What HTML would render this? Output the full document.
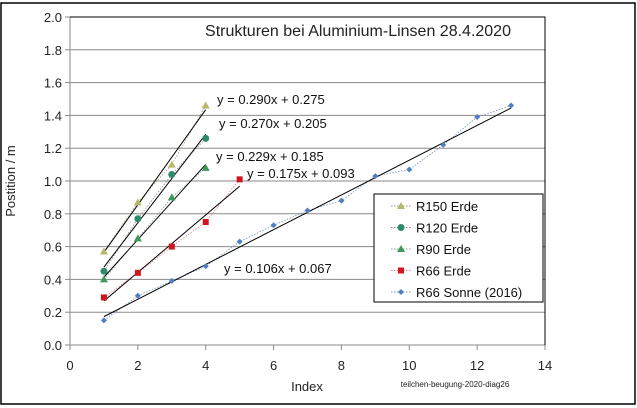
<!DOCTYPE html>
<html><head><meta charset="utf-8"><style>
body{margin:0;background:#fff}
svg{display:block;font-family:"Liberation Sans",sans-serif}
</style></head><body>
<svg width="637" height="408">
<rect x="1" y="3" width="634" height="401" fill="#fff" stroke="#000" stroke-width="1.5"/>
<g id="grid"></g>
<g id="axes"></g>
<g id="marks"></g>
<text x="358" y="36" font-size="16" text-anchor="middle" fill="#222">Strukturen bei Aluminium-Linsen 28.4.2020</text>
<text x="15" y="181" font-size="13" text-anchor="middle" transform="rotate(-90 15 181)" fill="#222">Postition / m</text>
<text x="307" y="391" font-size="13" text-anchor="middle" fill="#222">Index</text>
<text x="455" y="387" font-size="8" text-anchor="middle" fill="#222">teilchen-beugung-2020-diag26</text>
<g id="legend"></g>
</svg>
<script>
const xTicks=[0,2,4,6,8,10,12,14];
const yTicks=[0,0.2,0.4,0.6,0.8,1.0,1.2,1.4,1.6,1.8,2.0];
const seriesNames=["R150 Erde","R120 Erde","R90 Erde","R66 Erde","R66 Sonne (2016)"];
const r150=[[1,0.57],[2,0.87],[3,1.10],[4,1.46]];
const r120=[[1,0.45],[2,0.77],[3,1.04],[4,1.26]];
const r90=[[1,0.40],[2,0.65],[3,0.90],[4,1.08]];
const r66=[[1,0.29],[2,0.44],[3,0.60],[4,0.75],[5,1.01]];
const sonne=[[1,0.15],[2,0.30],[3,0.39],[4,0.48],[5,0.63],[6,0.73],[7,0.82],[8,0.88],[9,1.03],[10,1.07],[11,1.22],[12,1.39],[13,1.46]];
const slopes=[0.290,0.270,0.229,0.175,0.106];
const intercepts=[0.275,0.205,0.185,0.093,0.067];
const eqLabels=["y = 0.290x + 0.275","y = 0.270x + 0.205","y = 0.229x + 0.185","y = 0.175x + 0.093","y = 0.106x + 0.067"];
const eqPos=[[217,104],[219,128],[216,161],[247,178],[224,273]];
const colors=["#b5b86a","#2e8b6a","#3f9a5a","#d0151f","#4f7fc0"];
const lineColors=["#9aa070","#888","#7aa08a","#f08080","#7090c8"];
const shapes=["tri","circ","tri","sq","dia"];
const all=[r150,r120,r90,r66,sonne];
const X0=70,X1=545,Y0=345,Y1=17;
const sx=v=>X0+(v-0)/(14-0)*(X1-X0);
const sy=v=>Y0-(v-0)/(2-0)*(Y0-Y1);
const NS="http://www.w3.org/2000/svg";
function mk(t,a,p){const e=document.createElementNS(NS,t);for(const k in a)e.setAttribute(k,a[k]);p.appendChild(e);return e;}
const grid=document.getElementById('grid'),axes=document.getElementById('axes'),marks=document.getElementById('marks');
yTicks.forEach(v=>{
 const l=mk('line',{x1:X0,x2:X1,y1:sy(v),y2:sy(v),stroke:'#8a8a8a','stroke-width':1},grid);
 
 
 const t=mk('line',{x1:X0-5,x2:X0,y1:sy(v),y2:sy(v),stroke:'#8a8a8a'},axes);
 
 
 const tx=mk('text',{x:X0-8,y:sy(v)+5,'font-size':13,'text-anchor':'end',fill:'#222'},axes);
 tx.textContent=v.toFixed(1);
 
 
});
xTicks.forEach(v=>{
 const t=mk('line',{x1:sx(v),x2:sx(v),y1:Y0,y2:Y0+5,stroke:'#8a8a8a'},axes);
 
 
 const tx=mk('text',{x:sx(v),y:Y0+25,'font-size':13,'text-anchor':'middle',fill:'#222'},axes);
 tx.textContent=v;
 
 
});
const ya=mk('line',{x1:X0,x2:X0,y1:Y1,y2:Y0,stroke:'#8a8a8a'},axes);


const xa=mk('line',{x1:X0,x2:X1,y1:Y0,y2:Y0,stroke:'#8a8a8a'},axes);


const pb=mk('path',{d:`M${X0} ${Y1}H${X1}V${Y0}`,fill:'none',stroke:'#000'},axes);


function marker(shape,x,y,c,p){
 let e;
 if(shape==='tri')e=mk('polygon',{points:`${x},${y-4} ${x+4},${y+3} ${x-4},${y+3}`,fill:c},p);
 else if(shape==='circ')e=mk('circle',{cx:x,cy:y,r:3.5,fill:c},p);
 else if(shape==='sq')e=mk('rect',{x:x-3,y:y-3,width:6,height:6,fill:c},p);
 else e=mk('polygon',{points:`${x},${y-3} ${x+3},${y} ${x},${y+3} ${x-3},${y}`,fill:c},p);
 return e;
}
all.forEach((d,i)=>{
 const pl=mk('polyline',{points:d.map(p=>sx(p[0])+','+sy(p[1])).join(' '),fill:'none',stroke:lineColors[i],'stroke-width':0.8,'stroke-dasharray':'1.5,1.5'},marks);
 
 
 const xa0=d[0][0],xa1=d[d.length-1][0];
 const tl=mk('line',{x1:sx(xa0),y1:sy(slopes[i]*xa0+intercepts[i]),x2:sx(xa1),y2:sy(slopes[i]*xa1+intercepts[i]),stroke:'#000','stroke-width':1},marks);
 
 
 d.forEach(p=>{
  const m=marker(shapes[i],sx(p[0]),sy(p[1]),colors[i],marks);
  
  
 });
 const t=mk('text',{x:eqPos[i][0],y:eqPos[i][1],'font-size':13,fill:'#111'},marks);
 t.textContent=eqLabels[i];
 
 
});
const lg=document.getElementById('legend');
const lb=mk('rect',{x:374,y:194,width:169,height:108,fill:'#fff',stroke:'#000'},lg);


seriesNames.forEach((n,i)=>{
 const y=206+i*21.5;
 const g=mk('g',{},lg);
 
 
 mk('line',{x1:391,x2:411,y1:y,y2:y,stroke:lineColors[i],'stroke-dasharray':'1.5,1.5'},g);
 marker(shapes[i],401,y,colors[i],g);
 const t=mk('text',{x:416,y:y+5,'font-size':13,fill:'#111'},g);
 t.textContent=n;
});
</script>
</body></html>
